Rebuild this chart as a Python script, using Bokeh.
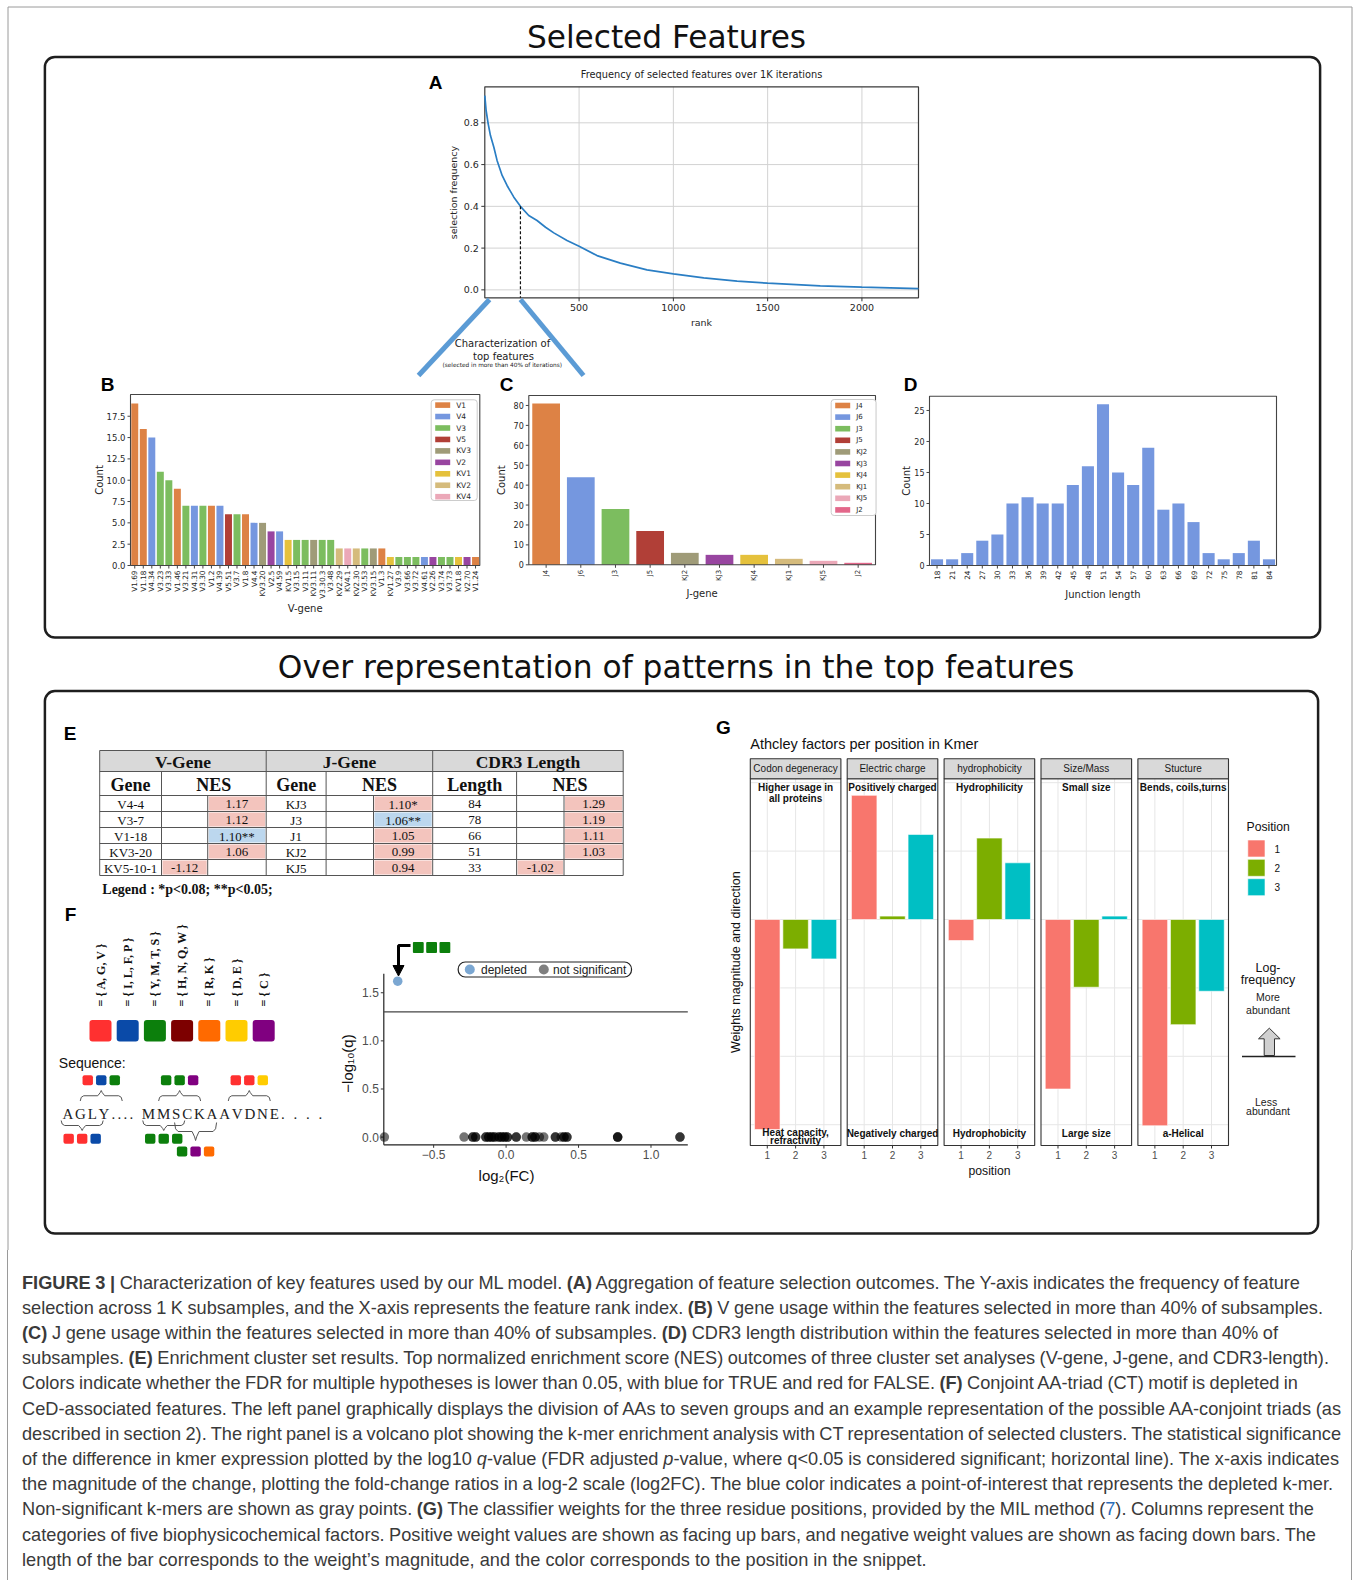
import math
from bokeh.plotting import figure
from bokeh.models import Range1d, Div
from bokeh.layouts import column
from bokeh.core.properties import value
from bokeh.embed import file_html
from bokeh.resources import INLINE

# ======================= DATA =======================
# Panel A: selection frequency by rank
a_rank = [0, 7, 18, 30, 48, 65, 92, 118, 154, 189, 233, 277, 322, 366, 436, 500,
          595, 719, 860, 1000, 1161, 1338, 1500, 1779, 2000, 2300]
a_freq = [0.93, 0.859, 0.795, 0.739, 0.683, 0.62, 0.548, 0.50, 0.444, 0.40, 0.356, 0.332,
          0.30, 0.273, 0.236, 0.209, 0.164, 0.128, 0.096, 0.077, 0.057, 0.042, 0.032,
          0.019, 0.013, 0.006]
a_cut_rank = 189
a_cut_freq = 0.40
a_xticks = [500, 1000, 1500, 2000]
a_yticks = [0.0, 0.2, 0.4, 0.6, 0.8]

# Panel B: V-gene usage
b_genes = ["V1.69", "V1.18", "V4.34", "V3.23", "V3.33", "V1.46", "V3.21", "V4.31", "V3.30",
           "V1.2", "V4.39", "V5.51", "V3.7", "V1.8", "V4.4", "KV3.20", "V2.5", "V4.59",
           "KV1.5", "V3.15", "V3.11", "KV3.11", "V3.30.3", "V3.48", "KV2.29", "KV4.1",
           "KV2.30", "V3.53", "KV3.15", "V1.3", "KV1.27", "V3.9", "V3.66", "V3.72", "V4.61",
           "V2.26", "V3.74", "V3.73", "KV1.8", "V2.70", "V1.24"]
b_counts = [19, 16, 15, 11, 10, 9, 7, 7, 7, 7, 7, 6, 6, 6, 5, 5, 4, 4, 3, 3, 3, 3, 3, 3,
            2, 2, 2, 2, 2, 2, 1, 1, 1, 1, 1, 1, 1, 1, 1, 1, 1]
b_families = ["V1", "V4", "V3", "V5", "KV3", "V2", "KV1", "KV2", "KV4"]
b_yticks = [0.0, 2.5, 5.0, 7.5, 10.0, 12.5, 15.0, 17.5]

# Panel C: J-gene usage
c_genes = ["J4", "J6", "J3", "J5", "KJ2", "KJ3", "KJ4", "KJ1", "KJ5", "J2"]
c_counts = [81, 44, 28, 17, 6, 5, 5, 3, 2, 1]
c_yticks = [0, 10, 20, 30, 40, 50, 60, 70, 80]

# Panel D: junction length
d_lengths = ["18", "21", "24", "27", "30", "33", "36", "39", "42", "45", "48", "51", "54",
             "57", "60", "63", "66", "69", "72", "75", "78", "81", "84"]
d_counts = [1, 1, 2, 4, 5, 10, 11, 10, 10, 13, 16, 26, 15, 13, 19, 9, 10, 7, 2, 1, 2, 4, 1]
d_yticks = [0, 5, 10, 15, 20, 25]

palette = ["#dd8245", "#7597df", "#7cbd5f", "#b13f37", "#9f9b78", "#9845a0", "#e5c13c",
           "#d5bb7c", "#eba8b8", "#e3678a"]

# Panel E: enrichment table
e_groups = ["V-Gene", "J-Gene", "CDR3 Length"]
e_subhead = ["Gene", "Gene", "Length"]
v_gene_e = ["V4-4", "V3-7", "V1-18", "KV3-20", "KV5-10-1"]
v_nes = [1.17, 1.12, 1.10, 1.06, -1.12]
v_sig = ["", "", "**", "", ""]
j_gene_e = ["KJ3", "J3", "J1", "KJ2", "KJ5"]
j_nes = [1.10, 1.06, 1.05, 0.99, 0.94]
j_sig = ["*", "**", "", "", ""]
cdr3_len = ["84", "78", "66", "51", "33"]
cdr3_nes = [1.29, 1.19, 1.11, 1.03, -1.02]
cdr3_sig = ["", "", "", "", ""]

# Panel F: amino-acid groups and volcano
aa_groups = [["A", "G", "V"], ["I", "L", "F", "P"], ["Y", "M", "T", "S"], ["H", "N", "Q", "W"],
             ["R", "K"], ["D", "E"], ["C"]]
aa_colors = ["#ff3030", "#0a4aa8", "#0c7f0c", "#7d0000", "#ff6a00", "#ffcc00", "#800080"]
seq_text = "AGLY.... MMSCKAAVDNE. . . ."
triads_above = [1, 10, 15]
triads_below = [0, 9]
triads_below2 = [11]
depleted_triad = [2, 2, 2]

fc_ns = [-0.84, -0.29, -0.23, -0.23, -0.21, -0.21, -0.14, -0.14, -0.12, -0.12, -0.10, -0.10,
         -0.08, -0.08, -0.05, -0.05, -0.03, -0.03, -0.01, -0.01, 0.01, 0.01, 0.07, 0.07, 0.14,
         0.18, 0.18, 0.20, 0.20, 0.23, 0.26, 0.34, 0.34, 0.38, 0.40, 0.40, 0.42, 0.42, 0.77,
         0.77, 0.77, 1.20, 1.20]
q_ns = [0.0, 0.0, 0.0, 0.0, 0.0, 0.0, 0.0, 0.0, 0.0, 0.0, 0.0, 0.0, 0.0, 0.0, 0.0, 0.0, 0.0,
        0.0, 0.0, 0.0, 0.0, 0.0, 0.0, 0.0, 0.0, 0.0, 0.0, 0.0, 0.0, 0.0, 0.0, 0.0, 0.0, 0.0,
        0.0, 0.0, 0.0, 0.0, 0.0, 0.0, 0.0, 0.0, 0.0]
fc_dep = [-0.748]
q_dep = [1.62]
q_threshold = 1.301
v_xticks = [-0.5, 0.0, 0.5, 1.0]
v_xlabels = ["\u22120.5", "0.0", "0.5", "1.0"]
v_yticks = [0.0, 0.5, 1.0, 1.5]

# Panel G: Atchley factor weights
g_factors = ["Codon degeneracy", "Electric charge", "hydrophobicity", "Size/Mass", "Stucture"]
g_pos1 = [-3.07, 1.815, -0.307, -2.478, -3.015]
g_pos2 = [-0.43, 0.05, 1.19, -0.99, -1.537]
g_pos3 = [-0.576, 1.244, 0.829, 0.05, -1.049]
g_top = [["Higher usage in", "all proteins"], ["Positively charged"], ["Hydrophilicity"],
         ["Small size"], ["Bends, coils,turns"]]
g_bottom = [["Heat capacity,", "refractivity"], ["Negatively charged"], ["Hydrophobicity"],
            ["Large size"], ["a-Helical"]]
g_positions = [1, 2, 3]
g_colors = ["#F8766D", "#7CAE00", "#00BFC4"]
g_grid = [-3, -2, -1, 0, 1, 2]

# ======================= HELPERS =======================
DJ = "DejaVu Sans"
AR = "Liberation Sans"
SE = "Liberation Serif"
FIG_W, FIG_H = 1357, 1250

p = figure(width=FIG_W, height=FIG_H, x_range=Range1d(0, FIG_W), y_range=Range1d(FIG_H, 0),
           x_axis_type=None, y_axis_type=None, output_backend="svg", toolbar_location=None,
           min_border=0, outline_line_color=None, background_fill_color="white",
           border_fill_color="white")


def T(target, x, y, s, size, font=DJ, color="#262626", align="center", base="middle",
      angle=0.0, style="normal", xo=0, yo=0):
    if not isinstance(s, list):
        s = [s]
    n = len(s)
    xs = x if isinstance(x, list) else [x] * n
    ys = y if isinstance(y, list) else [y] * n
    target.text(x=xs, y=ys, text=s, text_font=value(font), text_font_size=f"{size}px",
                text_color=color, text_align=align, text_baseline=base, angle=angle,
                text_font_style=style, x_offset=xo, y_offset=yo)


def sub(xr, yr, xt, yt):
    return p.subplot(x_source=Range1d(*xr), y_source=Range1d(*yr),
                     x_target=Range1d(*xt), y_target=Range1d(*yt))


def brace(x0, x1, y_arm, y_tip):
    xm = (x0 + x1) / 2.0
    d = y_tip - y_arm
    ym = y_arm + 0.5 * d
    xs = [x0, x0 + 1.0, x0 + 3.5, xm - 3.5, xm - 1.0, xm, xm + 1.0, xm + 3.5, x1 - 3.5, x1 - 1.0, x1]
    ys = [y_arm, y_arm + 0.35 * d, ym, ym, y_arm + 0.8 * d, y_tip, y_arm + 0.8 * d, ym, ym,
          y_arm + 0.35 * d, y_arm]
    return xs, ys


# page border
p.segment(x0=[7.5, 1351.5, 7.5], y0=[6.5, 6.5, 6.5], x1=[7.5, 1351.5, 1351.5],
          y1=[FIG_H, FIG_H, 6.5], line_color="#9a9a9a", line_width=1)

# section titles and frames
T(p, 666, 36, "Selected Features", 31.2, DJ, "#111")
T(p, 675.5, 666.5, "Over representation of patterns in the top features", 31.3, DJ, "#111")
p.quad(left=[44.4], right=[1319.6], top=[56.5], bottom=[637], fill_color=None,
       line_color="#1e1e1e", line_width=2.5, border_radius=10)
p.quad(left=[44.4], right=[1317.6], top=[690.6], bottom=[1233], fill_color=None,
       line_color="#1e1e1e", line_width=2.5, border_radius=10)

# panel letters
for lab, lx, ly in [("A", 435, 82), ("B", 107, 384), ("C", 506, 384), ("D", 910, 384),
                    ("E", 69.6, 732.5), ("F", 70, 914), ("G", 723, 726.5)]:
    T(p, lx, ly, lab, 19, AR, "#000", style="bold")

# ======================= PANEL A =======================
AL_, AR_, AT_, AB_ = 484.3, 918.0, 86.3, 297.3
AXR, AYR = (0, 2300), (-0.038, 0.9725)
sa = sub(AXR, AYR, (AL_, AR_), (AB_, AT_))
ady = (AYR[1] - AYR[0]) / (AB_ - AT_)
adx = (AXR[1] - AXR[0]) / (AR_ - AL_)
sa.segment(x0=a_xticks, y0=AYR[0], x1=a_xticks, y1=AYR[1], line_color="#d2d2d2", line_width=1)
sa.segment(x0=AXR[0], y0=a_yticks, x1=AXR[1], y1=a_yticks, line_color="#d2d2d2", line_width=1)
sa.quad(left=[AXR[0]], right=[AXR[1]], bottom=[AYR[0]], top=[AYR[1]], fill_color=None,
        line_color="#3a3a3a", line_width=1.2)
sa.line(a_rank, a_freq, line_color="#2a7ec4", line_width=1.7)
sa.segment(x0=[a_cut_rank], y0=[a_cut_freq], x1=[a_cut_rank], y1=[AYR[0]], line_color="#111",
           line_width=1.2, line_dash="3 2")
sa.segment(x0=a_xticks, y0=AYR[0], x1=a_xticks, y1=AYR[0] - 3.5 * ady, line_color="#333")
sa.segment(x0=AXR[0] - 3.5 * adx, y0=a_yticks, x1=AXR[0], y1=a_yticks, line_color="#333")
T(sa, a_xticks, AYR[0], [str(v) for v in a_xticks], 9.5, DJ, "#262626", "center", "top", yo=6)
T(sa, AXR[0], a_yticks, [f"{v:.1f}" for v in a_yticks], 9.5, DJ, "#262626", "right", "middle", xo=-6)
T(p, 701, 74, "Frequency of selected features over 1K iterations", 9.8, DJ, "#222")
T(p, 701, 322, "rank", 9.5, DJ, "#262626")
T(p, 453, 192, "selection frequency", 9.5, DJ, "#262626", angle=math.pi / 2)

# zoom callout
p.segment(x0=[489, 520], y0=[299, 299], x1=[418, 583], y1=[375, 375], line_color="#5b9bd5",
          line_width=5)
T(p, 502, 343, "Characterization of", 10, DJ, "#222")
T(p, 503, 355.5, "top features", 10, DJ, "#222")
T(p, 501.7, 364, "(selected in more than 40% of iterations)", 5.8, DJ, "#222")


# ======================= PANELS B, C, D =======================
def bar_panel(L, R, Tp, B, labels, counts, colors, ymax, yticks, ylabs, tick_fs, lab_fs,
              xlabel, xlabel_y, ylabel_x, width=0.8):
    n = len(labels)
    xr = (-0.5, n - 0.5)
    yr = (0, ymax)
    s = sub(xr, yr, (L, R), (B, Tp))
    dy = (yr[1] - yr[0]) / (B - Tp)
    dx = (xr[1] - xr[0]) / (R - L)
    idx = list(range(n))
    s.vbar(x=idx, top=counts, bottom=0, width=width, fill_color=colors, line_color=None)
    s.quad(left=[xr[0]], right=[xr[1]], bottom=[yr[0]], top=[yr[1]], fill_color=None,
           line_color="#444", line_width=1.1)
    s.segment(x0=idx, y0=0, x1=idx, y1=-3 * dy, line_color="#444")
    s.segment(x0=xr[0] - 3 * dx, y0=yticks, x1=xr[0], y1=yticks, line_color="#444")
    T(s, xr[0], yticks, ylabs, tick_fs, DJ, "#262626", "right", "middle", xo=-5)
    T(s, idx, 0, labels, lab_fs, DJ, "#262626", "right", "middle", angle=math.pi / 2, yo=5)
    T(p, (L + R) / 2, xlabel_y, xlabel, 10, DJ, "#262626")
    T(p, ylabel_x, (Tp + B) / 2, "Count", 10, DJ, "#262626", angle=math.pi / 2)
    return s


def legend_box(x0, x1, y0, y1, names, colors, row0, step, fs):
    p.quad(left=[x0], right=[x1], top=[y0], bottom=[y1], fill_color="white",
           line_color="#cccccc", line_width=1, border_radius=3)
    ys = [row0 + i * step for i in range(len(names))]
    p.quad(left=x0 + 4, right=x0 + 19, top=[y - 2.8 for y in ys], bottom=[y + 2.8 for y in ys],
           fill_color=colors[:len(names)], line_color=None)
    T(p, x0 + 25, ys, names, fs, DJ, "#262626", "left", "middle")


b_colors = [palette[b_families.index(g.split(".")[0])] for g in b_genes]
bar_panel(130, 479.3, 394, 565, b_genes, b_counts, b_colors, 20.05, b_yticks,
          [f"{v:.1f}" for v in b_yticks], 8.5, 7.3, "V-gene", 608, 99, width=0.82)
legend_box(430.7, 476.7, 399.3, 500, b_families, palette, 404.6, 11.45, 7.5)

bar_panel(528.3, 875, 395, 564.3, c_genes, c_counts, palette[:10], 85.0, c_yticks,
          [str(v) for v in c_yticks], 8, 7, "J-gene", 593, 501)
legend_box(830.7, 875.5, 399, 515, c_genes, palette, 405, 11.6, 7)

bar_panel(929, 1276, 395.7, 565, d_lengths, d_counts, ["#7597df"] * len(d_counts), 27.3,
          d_yticks, [str(v) for v in d_yticks], 8, 7.3, "Junction length", 594, 906)

# ======================= PANEL E (table) =======================
tab_x = [[99.2, 161.0, 207.2, 265.7], [265.7, 325.6, 373.0, 432.2], [432.2, 516.1, 563.5, 622.7]]
row_top, row_h = 795.0, 16.0
h1_top, h1_bot = 750.0, 771.0
e_names = [v_gene_e, j_gene_e, cdr3_len]
e_vals = [v_nes, j_nes, cdr3_nes]
e_sigs = [v_sig, j_sig, cdr3_sig]
nrow = len(v_gene_e)
tab_bot = row_top + nrow * row_h

p.quad(left=[tab_x[0][0]], right=[tab_x[2][3]], top=[h1_top], bottom=[h1_bot],
       fill_color="#d9d9d9", line_color=None)
for g in range(3):
    fl, fr, ft, fb, fc = [], [], [], [], []
    for i in range(nrow):
        v = e_vals[g][i]
        col = 1 if v < 0 else 2
        fl.append(tab_x[g][col] + 1)
        fr.append(tab_x[g][col + 1] - 1)
        ft.append(row_top + i * row_h + 1)
        fb.append(row_top + (i + 1) * row_h - 1)
        fc.append("#bcd7ee" if e_sigs[g][i] == "**" else "#f3c4bd")
    p.quad(left=fl, right=fr, top=ft, bottom=fb, fill_color=fc, line_color=None)

hy = [h1_top, h1_bot, row_top] + [row_top + (i + 1) * row_h for i in range(nrow)]
p.segment(x0=tab_x[0][0], y0=hy, x1=tab_x[2][3], y1=hy, line_color="#555", line_width=1)
vx_full = [tab_x[0][0], tab_x[0][3], tab_x[1][3], tab_x[2][3]]
p.segment(x0=vx_full, y0=h1_top, x1=vx_full, y1=tab_bot, line_color="#555", line_width=1)
vx_sub = [tab_x[g][1] for g in range(3)]
p.segment(x0=vx_sub, y0=h1_bot, x1=vx_sub, y1=tab_bot, line_color="#555", line_width=1)
vx_neg = [tab_x[g][2] for g in range(3)]
p.segment(x0=vx_neg, y0=row_top, x1=vx_neg, y1=tab_bot, line_color="#555", line_width=1)

for g in range(3):
    xs = tab_x[g]
    T(p, (xs[0] + xs[3]) / 2, (h1_top + h1_bot) / 2 + 1, e_groups[g], 17.5, SE, "#111", style="bold")
    T(p, (xs[0] + xs[1]) / 2, (h1_bot + row_top) / 2 + 1, e_subhead[g], 18, SE, "#111", style="bold")
    T(p, (xs[1] + xs[3]) / 2, (h1_bot + row_top) / 2 + 1, "NES", 18, SE, "#111", style="bold")
    ry = [row_top + (i + 0.5) * row_h + 0.5 for i in range(nrow)]
    T(p, (xs[0] + xs[1]) / 2, ry, e_names[g], 13, SE, "#111")
    vx = [((xs[1] + xs[2]) / 2 if v < 0 else (xs[2] + xs[3]) / 2) for v in e_vals[g]]
    vt = [f"{v:.2f}{s}" for v, s in zip(e_vals[g], e_sigs[g])]
    T(p, vx, ry, vt, 13, SE, "#111")
T(p, 101.8, 888.5, "Legend : *p<0.08; **p<0.05;", 14, SE, "#111", "left", style="bold")

# ======================= PANEL F (left schematic) =======================
sq_x = [100 + 27.2 * i for i in range(len(aa_groups))]
p.quad(left=[x - 11 for x in sq_x], right=[x + 11 for x in sq_x], top=1019.5, bottom=1041,
       fill_color=aa_colors, line_color=None, border_radius=3)
T(p, sq_x, 1006, ["= { " + ", ".join(g) + " }" for g in aa_groups], 12, SE, "#111", "left",
  "middle", angle=math.pi / 2, style="bold")
T(p, 58.3, 1062, "Sequence:", 14, AR, "#111", "left")

times_w = {"A": .722, "G": .722, "L": .611, "Y": .722, "M": .889, "S": .556, "C": .667,
           "K": .722, "V": .722, "D": .722, "N": .722, "E": .611}
seq_fs = 15
cx, cursor = [], 61.0
for ch in seq_text:
    if ch in times_w:
        adv = times_w[ch] * seq_fs + 1.8
    elif ch == ".":
        adv = 6.0
    else:
        adv = 6.5
    cx.append(cursor + adv / 2)
    cursor += adv
T(p, [c for c, ch in zip(cx, seq_text) if ch != " "], 1113.5,
  [ch for ch in seq_text if ch != " "], seq_fs, SE, "#222")


def aa_color(ch):
    for gi, g in enumerate(aa_groups):
        if ch in g:
            return aa_colors[gi]
    return "#999"


def draw_triads(starts, shifts, y_sq, y_arm, y_tip):
    bx, by, qx, qc = [], [], [], []
    for s0, sh in zip(starts, shifts):
        mid = sum(cx[s0:s0 + 3]) / 3 + sh
        xs, ys = brace(mid - 21, mid + 21, y_arm, y_tip)
        bx.append(xs)
        by.append(ys)
        for k in range(3):
            qx.append(mid + (k - 1) * 13.5)
            qc.append(aa_color(seq_text[s0 + k]))
    p.multi_line(xs=bx, ys=by, line_color="#555", line_width=1)
    p.quad(left=[x - 5.2 for x in qx], right=[x + 5.2 for x in qx], top=y_sq - 5.0,
           bottom=y_sq + 5.0, fill_color=qc, line_color=None, border_radius=2)


draw_triads(triads_above, [9, 4, 12], 1079.7, 1100.5, 1090)
draw_triads(triads_below, [2, 1], 1138.3, 1120, 1130)
draw_triads(triads_below2, [8], 1151, 1122, 1140)

# ======================= PANEL F (volcano) =======================
VXR, VYR = (-0.844, 1.254), (-0.08, 1.697)
VL, VR, VT, VB = 383.3, 687.3, 973.3, 1144.3
sv = sub(VXR, VYR, (VL, VR), (VB, VT))
vdy = (VYR[1] - VYR[0]) / (VB - VT)
vdx = (VXR[1] - VXR[0]) / (VR - VL)
sv.segment(x0=[VXR[0], VXR[0]], y0=[VYR[0], VYR[0]], x1=[VXR[0], VXR[1]], y1=[VYR[1], VYR[0]],
           line_color="#222", line_width=1.2)
sv.segment(x0=[VXR[0]], y0=[q_threshold], x1=[VXR[1]], y1=[q_threshold], line_color="#444",
           line_width=1.2)
sv.segment(x0=v_xticks, y0=VYR[0], x1=v_xticks, y1=VYR[0] - 3 * vdy, line_color="#333")
sv.segment(x0=VXR[0] - 3 * vdx, y0=v_yticks, x1=VXR[0], y1=v_yticks, line_color="#333")
T(sv, v_xticks, VYR[0], v_xlabels, 12, AR, "#4d4d4d", "center", "top", yo=5)
T(sv, VXR[0], v_yticks, [f"{v:.1f}" for v in v_yticks], 12, AR, "#4d4d4d", "right", "middle", xo=-5)
sv.scatter(fc_ns, q_ns, size=9.5, fill_color="black", fill_alpha=0.55, line_color=None)
sv.scatter(fc_dep, q_dep, size=9.5, fill_color="#7ba7d2", line_color=None)
T(p, 506, 1175, "log\u2082(FC)", 15, AR, "#111")
T(p, 346.7, 1063, "\u2212log\u2081\u2080(q)", 15, AR, "#111", angle=math.pi / 2)
# legend
p.quad(left=[457.7], right=[631], top=[961.5], bottom=[976.5], fill_color="white",
       line_color="#222", line_width=1.2, border_radius=7)
p.scatter([469.3], [969], size=10, fill_color="#7ba7d2", line_color=None)
p.scatter([543.3], [969], size=10, fill_color="#7f7f7f", line_color=None)
T(p, 480.5, 969, "depleted", 12, AR, "#222", "left")
T(p, 552.5, 969, "not significant", 12, AR, "#222", "left")
# arrow and depleted triad
p.line([410, 398, 398], [945, 945, 966], line_color="black", line_width=3)
p.patch([392.5, 403.5, 398], [965, 965, 975.5], fill_color="black", line_color="black")
dq = [417.8 + 13.3 * i for i in range(3)]
p.quad(left=[x - 5.4 for x in dq], right=[x + 5.4 for x in dq], top=941.6, bottom=952.4,
       fill_color=[aa_colors[k] for k in depleted_triad], line_color=None, border_radius=1)

# ======================= PANEL G =======================
T(p, 749.8, 743.3, "Athcley factors per position in Kmer", 14.5, AR, "#111", "left")
GXR, GYR = (0.4, 3.6), (-3.304, 2.057)
g_left0, g_pitch, g_w = 749.8, 96.9, 90.6
strip_top, strip_bot, g_bot = 758.3, 778.3, 1145.0
for k in range(len(g_factors)):
    L = g_left0 + k * g_pitch
    R = L + g_w
    sg = sub(GXR, GYR, (L, R), (g_bot, strip_bot))
    gdy = (GYR[1] - GYR[0]) / (g_bot - strip_bot)
    sg.segment(x0=g_positions, y0=GYR[0], x1=g_positions, y1=GYR[1], line_color="#e6e6e6",
               line_width=1)
    sg.segment(x0=GXR[0], y0=g_grid, x1=GXR[1], y1=g_grid, line_color="#e6e6e6", line_width=1)
    sg.vbar(x=g_positions, bottom=0, top=[g_pos1[k], g_pos2[k], g_pos3[k]], width=0.9,
            fill_color=g_colors, line_color="white", line_width=0.6)
    sg.segment(x0=g_positions, y0=GYR[0], x1=g_positions, y1=GYR[0] - 3 * gdy, line_color="#333")
    T(sg, g_positions, GYR[0], [str(v) for v in g_positions], 10, AR, "#4d4d4d", "center", "top", yo=5)
    p.quad(left=[L], right=[R], top=[strip_bot], bottom=[g_bot], fill_color=None,
           line_color="#333", line_width=1.1)
    p.quad(left=[L], right=[R], top=[strip_top], bottom=[strip_bot], fill_color="#d9d9d9",
           line_color="#333", line_width=1.1)
    T(p, (L + R) / 2, (strip_top + strip_bot) / 2, g_factors[k], 10, AR, "#1a1a1a")
    tl = g_top[k]
    T(p, (L + R) / 2, [786.7 + 11 * i for i in range(len(tl))], tl, 10, AR, "#111",
      style="bold")
    bl = g_bottom[k]
    T(p, (L + R) / 2, [1132.7 - 0.5 * (len(bl) - 1) + 8 * i for i in range(len(bl))], bl, 10,
      AR, "#111", style="bold")

T(p, 989, 1170, "position", 12.2, AR, "#111")
T(p, 735.2, 961.7, "Weights magnitude and direction", 12.5, AR, "#111", angle=math.pi / 2)
# legend
T(p, 1246, 826.7, "Position", 12.2, AR, "#111", "left")
ly = [848, 867.3, 886.7]
p.quad(left=1247.3, right=1264.5, top=[y - 8.5 for y in ly], bottom=[y + 8.5 for y in ly],
       fill_color=g_colors, line_color="white", line_width=0.6)
T(p, 1274, ly, [str(v) for v in g_positions], 10, AR, "#111", "left")
T(p, 1267.5, 967.7, "Log-", 12.4, AR, "#111")
T(p, 1267.5, 979.5, "frequency", 12.4, AR, "#111")
T(p, 1267.5, 996.7, "More", 10.5, AR, "#222")
T(p, 1267.5, 1009, "abundant", 10.5, AR, "#222")
p.patch([1263.7, 1263.7, 1258, 1268.8, 1279.6, 1274, 1274],
        [1055, 1038.3, 1038.3, 1027.7, 1038.3, 1038.3, 1055],
        fill_color="#d0d0d0", line_color="#333", line_width=1)
p.segment(x0=[1241.5], y0=[1056], x1=[1295], y1=[1056], line_color="#222", line_width=1.6)
T(p, 1265.6, 1101.7, "Less", 10.5, AR, "#222")
T(p, 1267.5, 1110, "abundant", 10.5, AR, "#222")

# ======================= CAPTION =======================
cap_lines = [
    "<b>FIGURE 3 |</b> Characterization of key features used by our ML model. <b>(A)</b> Aggregation of feature selection outcomes. The Y-axis indicates the frequency of feature",
    "selection across 1 K subsamples, and the X-axis represents the feature rank index. <b>(B)</b> V gene usage within the features selected in more than 40% of subsamples.",
    "<b>(C)</b> J gene usage within the features selected in more than 40% of subsamples. <b>(D)</b> CDR3 length distribution within the features selected in more than 40% of",
    "subsamples. <b>(E)</b> Enrichment cluster set results. Top normalized enrichment score (NES) outcomes of three cluster set analyses (V-gene, J-gene, and CDR3-length).",
    "Colors indicate whether the FDR for multiple hypotheses is lower than 0.05, with blue for TRUE and red for FALSE. <b>(F)</b> Conjoint AA-triad (CT) motif is depleted in",
    "CeD-associated features. The left panel graphically displays the division of AAs to seven groups and an example representation of the possible AA-conjoint triads (as",
    "described in section 2). The right panel is a volcano plot showing the k-mer enrichment analysis with CT representation of selected clusters. The statistical significance",
    "of the difference in kmer expression plotted by the log10 <i>q</i>-value (FDR adjusted <i>p</i>-value, where q&lt;0.05 is considered significant; horizontal line). The x-axis indicates",
    "the magnitude of the change, plotting the fold-change ratios in a log-2 scale (log2FC). The blue color indicates a point-of-interest that represents the depleted k-mer.",
    "Non-significant k-mers are shown as gray points. <b>(G)</b> The classifier weights for the three residue positions, provided by the MIL method (<span style='color:#2a6ebb'>7</span>). Columns represent the",
    "categories of five biophysicochemical factors. Positive weight values are shown as facing up bars, and negative weight values are shown as facing down bars. The",
    "length of the bar corresponds to the weight\u2019s magnitude, and the color corresponds to the position in the snippet.",
]
cap_right = [1300, 1323, 1278, 1329, 1298, 1341, 1341, 1339, 1333, 1314, 1316, None]
CAP_H = 325
parts = []
for i, (ln, rr) in enumerate(zip(cap_lines, cap_right)):
    top = 20.6 + i * 25.2
    if rr is None:
        st = f"position:absolute;left:22px;top:{top:.1f}px;height:25.2px;line-height:25.2px;white-space:nowrap;"
    else:
        st = (f"position:absolute;left:22px;top:{top:.1f}px;width:{rr - 22}px;height:25.2px;"
              "line-height:25.2px;white-space:nowrap;word-spacing:-1.2px;text-align:justify;"
              "text-align-last:justify;")
    parts.append(f"<div style=\"{st}\">{ln}</div>")
borders = ("<div style=\"position:absolute;left:7px;top:0px;width:1px;height:330px;background:#9a9a9a;\"></div>"
           "<div style=\"position:absolute;left:1351px;top:0px;width:1px;height:330px;background:#9a9a9a;\"></div>")
cap_html = (f"<div style=\"position:relative;width:{FIG_W}px;height:{CAP_H}px;"
            "font-family:'Liberation Sans',Arial,sans-serif;font-size:18.2px;color:#3a3a3a;\">"
            + borders + "".join(parts) + "</div>")
cap = Div(text=cap_html, width=FIG_W, height=CAP_H, margin=(0, 0, 0, 0))

layout = column(p, cap, spacing=0)
open("out.html", "w").write(file_html(layout, INLINE))
